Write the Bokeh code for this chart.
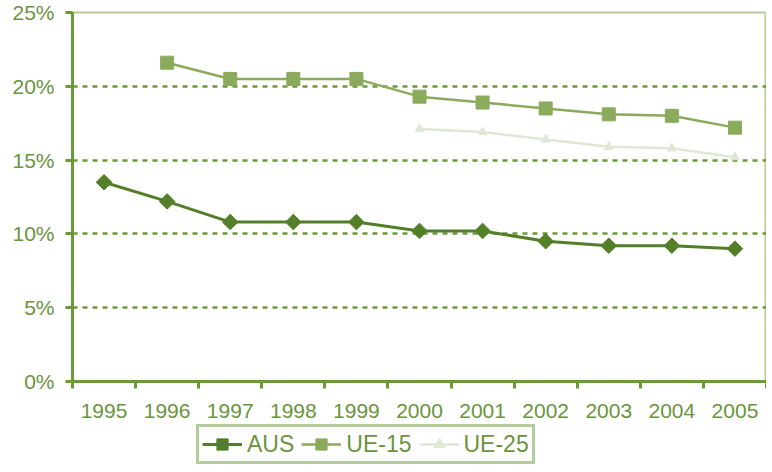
from bokeh.plotting import figure
from bokeh.layouts import column
from bokeh.models import FixedTicker, Range1d, Legend, LegendItem, PrintfTickFormatter
from bokeh.embed import file_html
from bokeh.resources import INLINE

years = [1995, 1996, 1997, 1998, 1999, 2000, 2001, 2002, 2003, 2004, 2005]
year_labels = ["1995", "1996", "1997", "1998", "1999", "2000", "2001", "2002", "2003", "2004", "2005"]
aus = [13.5, 12.2, 10.8, 10.8, 10.8, 10.2, 10.2, 9.5, 9.2, 9.2, 9.0]
ue15_years = [1996, 1997, 1998, 1999, 2000, 2001, 2002, 2003, 2004, 2005]
ue15 = [21.6, 20.5, 20.5, 20.5, 19.3, 18.9, 18.5, 18.1, 18.0, 17.2]
ue25_years = [2000, 2001, 2002, 2003, 2004, 2005]
ue25 = [17.1, 16.9, 16.4, 15.9, 15.8, 15.2]
y_ticks = [0, 5, 10, 15, 20, 25]
series_names = ["AUS", "UE-15", "UE-25"]

TXT = "#6a9440"
AXIS = "#6a9a3a"
C_AUS = "#527f27"
C_U15 = "#8aab5c"
C_U25 = "#e0e7d4"
FONT = "Liberation Sans"

W = 766
p = figure(width=W, height=423, output_backend="svg", toolbar_location=None,
           x_range=Range1d(1994.5, 2005.5), y_range=Range1d(0, 25),
           min_border_left=72, min_border_right=0, min_border_top=12, min_border_bottom=42)
p.background_fill_color = "white"
p.border_fill_color = "white"
p.outline_line_color = "#b5cc98"
p.outline_line_width = 2

# x axis
p.xaxis.ticker = FixedTicker(ticks=years, minor_ticks=[y - 0.5 for y in years] + [2005.5])
p.xaxis.major_label_overrides = {y: l for y, l in zip(years, year_labels)}
p.xaxis.major_tick_out = 0
p.xaxis.major_tick_in = 0
p.xaxis.minor_tick_out = 7
p.xaxis.minor_tick_in = 0
p.xaxis.minor_tick_line_color = AXIS
p.xaxis.minor_tick_line_width = 3
p.xaxis.axis_line_color = AXIS
p.xaxis.axis_line_width = 3
p.xaxis.major_label_text_color = TXT
p.xaxis.major_label_text_font = FONT
p.xaxis.major_label_text_font_size = "21px"
p.xaxis.major_label_standoff = 15

# y axis
p.yaxis.ticker = FixedTicker(ticks=y_ticks, minor_ticks=[])
p.yaxis.formatter = PrintfTickFormatter(format="%d%%")
p.yaxis.major_tick_out = 7
p.yaxis.major_tick_in = 0
p.yaxis.major_tick_line_color = AXIS
p.yaxis.major_tick_line_width = 3
p.yaxis.axis_line_color = AXIS
p.yaxis.axis_line_width = 3
p.yaxis.major_label_text_color = TXT
p.yaxis.major_label_text_font = FONT
p.yaxis.major_label_text_font_size = "21px"
p.yaxis.major_label_standoff = 11

p.xgrid.grid_line_color = None
p.ygrid.grid_line_color = AXIS
p.ygrid.grid_line_width = 2.5
p.ygrid.grid_line_dash = "5 5"

def draw(fig):
    r3l = fig.line(ue25_years, ue25, line_color=C_U25, line_width=2.5)
    r3m = fig.scatter(ue25_years, ue25, marker="triangle", size=9, fill_color=C_U25, line_color=C_U25)
    r2l = fig.line(ue15_years, ue15, line_color=C_U15, line_width=2.5)
    r2m = fig.scatter(ue15_years, ue15, marker="square", size=13, fill_color=C_U15, line_color=C_U15)
    r1l = fig.line(years, aus, line_color=C_AUS, line_width=3)
    r1m = fig.scatter(years, aus, marker="square", size=11, angle=0.785398,
                      fill_color=C_AUS, line_color=C_AUS)
    return [[r1l, r1m], [r2l, r2m], [r3l, r3m]]

draw(p)

# legend strip below the chart (its own renderers kept out of view)
p2 = figure(width=W, height=41, output_backend="svg", toolbar_location=None,
            x_range=Range1d(0, 1), y_range=Range1d(100, 101),
            min_border=0)
p2.axis.visible = False
p2.grid.visible = False
p2.outline_line_color = None
p2.background_fill_color = "white"
p2.border_fill_color = "white"
lr = draw(p2)

legend = Legend(items=[LegendItem(label=n, renderers=r) for n, r in zip(series_names, lr)],
                orientation="horizontal", location=(124, 0))
legend.label_text_font = FONT
legend.label_text_font_size = "23px"
legend.label_text_color = TXT
legend.border_line_color = AXIS
legend.border_line_width = 3
legend.background_fill_color = "white"
legend.glyph_width = 40
legend.label_standoff = 5
legend.spacing = 7
legend.padding = 3
legend.margin = 0
legend.label_height = 28
legend.glyph_height = 28
p2.add_layout(legend, "center")

layout = column(p, p2, spacing=0)
open("out.html", "w").write(file_html(layout, INLINE))
